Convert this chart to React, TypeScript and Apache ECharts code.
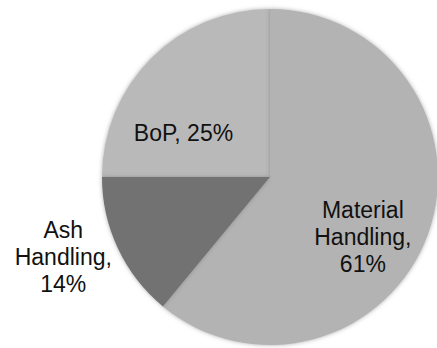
import React, { useEffect, useRef } from "react";
import * as echarts from "echarts";

// Cost breakdown shares (percent)
const categories = ["BoP", "Material Handling", "Ash Handling"];
const shares = [25, 61, 14];
const sliceColors = ["#b9b9b9", "#b3b3b3", "#727272"];
// label nudges from the default inside position
const labelOffsets: [number, number][] = [
  [-25, 18],
  [11, 31],
  [-128, 43],
];

export default function App() {
  const ref = useRef<HTMLDivElement>(null);

  useEffect(() => {
    if (!ref.current) return;
    const chart = echarts.init(ref.current, undefined, { renderer: "svg" });

    const data = categories.map((name, i) => ({
      name,
      value: shares[i],
      itemStyle: { color: sliceColors[i] },
      label: { offset: labelOffsets[i] },
    }));

    chart.setOption({
      animation: false,
      backgroundColor: "#ffffff",
      series: [
        {
          type: "pie",
          center: [270, 177],
          radius: 168,
          startAngle: 180,
          clockwise: true,
          silent: true,
          data,
          itemStyle: {
            borderWidth: 0,
            shadowBlur: 4,
            shadowColor: "rgba(120,120,120,0.6)",
          },
          label: {
            show: true,
            position: "inside",
            fontFamily: "Liberation Sans, Arial, sans-serif",
            fontSize: 23,
            lineHeight: 27,
            color: "#111111",
            align: "center",
            formatter: (p: any) =>
              p.name.indexOf(" ") < 0
                ? `${p.name}, ${p.value}%`
                : `${p.name.replace(" ", "\n")},\n${p.value}%`,
          },
          labelLine: { show: false },
          emphasis: { disabled: true },
        },
      ],
    });

    return () => chart.dispose();
  }, []);

  return (
    <div
      ref={ref}
      style={{ position: "fixed", left: 0, top: 0, width: 437, height: 348 }}
    />
  );
}
